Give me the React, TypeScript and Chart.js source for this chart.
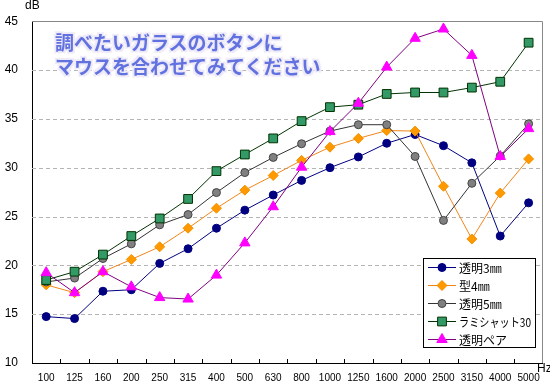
import React, { useEffect, useRef } from "react";
import { Chart, registerables } from "chart.js";

Chart.register(...registerables);

const categories = ["100", "125", "160", "200", "250", "315", "400", "500", "630", "800", "1000", "1250", "1600", "2000", "2500", "3150", "4000", "5000"];
const seriesNames = ["透明3㎜", "型4㎜", "透明5㎜", "ラミシャット30", "透明ペア"];
const clear3 = [14.75, 14.55, 17.35, 17.5, 20.2, 21.7, 23.8, 25.65, 27.2, 28.7, 30.0, 31.1, 32.5, 33.4, 32.25, 30.5, 23.0, 26.4];
const pattern4 = [18.0, 17.2, 19.35, 20.6, 21.9, 23.8, 25.85, 27.7, 29.2, 30.75, 32.1, 33.0, 33.8, 33.75, 28.1, 22.7, 27.4, 30.9];
const clear5 = [18.3, 18.7, 20.7, 22.2, 24.15, 25.2, 27.45, 29.5, 31.05, 32.45, 33.75, 34.4, 34.4, 31.15, 24.6, 28.4, 31.2, 34.5];
const lami30 = [18.5, 19.35, 21.1, 23.0, 24.8, 26.8, 29.65, 31.35, 33.0, 34.77, 36.2, 36.45, 37.55, 37.7, 37.7, 38.2, 38.8, 42.8];
const pair = [19.25, 17.2, 19.35, 17.8, 16.7, 16.55, 19.0, 22.3, 26.0, 30.05, 33.7, 36.6, 40.3, 43.25, 44.2, 41.5, 31.15, 34.0];
const yTickValues = [10, 15, 20, 25, 30, 35, 40, 45];
const overlayLines = ["調べたいガラスのボタンに", "マウスを合わせてみてください"];
const yUnit = "dB";
const xUnit = "Hz";

const styles = [
  { line: "#000080", fill: "#000080", border: "#000080", shape: "circle", r: 4 },
  { line: "#f0861a", fill: "#ff9900", border: "#f39000", shape: "rectRot", r: 5 },
  { line: "#333333", fill: "#808080", border: "#444444", shape: "circle", r: 4 },
  { line: "#003300", fill: "#339966", border: "#003300", shape: "rect", r: 6.2 },
  { line: "#800080", fill: "#ff00ff", border: "#ff00ff", shape: "triangle", r: 6 },
];
const seriesData = [clear3, pattern4, clear5, lami30, pair];

function drawMarker(ctx: CanvasRenderingContext2D, shape: string, r: number, x: number, y: number) {
  ctx.beginPath();
  if (shape === "circle") {
    ctx.arc(x, y, r, 0, Math.PI * 2);
  } else if (shape === "rect") {
    const h = r * Math.SQRT1_2;
    ctx.rect(x - h, y - h, 2 * h, 2 * h);
  } else if (shape === "rectRot") {
    ctx.moveTo(x, y - r);
    ctx.lineTo(x + r, y);
    ctx.lineTo(x, y + r);
    ctx.lineTo(x - r, y);
    ctx.closePath();
  } else if (shape === "triangle") {
    for (let k = 0; k < 3; k++) {
      const ang = (k * 2 * Math.PI) / 3;
      const px = x + Math.sin(ang) * r;
      const py = y - Math.cos(ang) * r;
      if (k === 0) ctx.moveTo(px, py);
      else ctx.lineTo(px, py);
    }
    ctx.closePath();
  }
  ctx.fill();
  ctx.stroke();
}

const decorPlugin = {
  id: "decor",
  beforeDatasetsDraw(chart: any) {
    const ctx = chart.ctx;
    const a = chart.chartArea;
    const y = chart.scales.y;
    ctx.save();
    ctx.strokeStyle = "#b4b4b4";
    ctx.lineWidth = 1;
    ctx.setLineDash([4, 3]);
    for (const v of yTickValues) {
      if (v === 10 || v === 45) continue;
      const py = Math.round(y.getPixelForValue(v)) + 0.5;
      ctx.beginPath();
      ctx.moveTo(a.left, py);
      ctx.lineTo(a.right, py);
      ctx.stroke();
    }
    ctx.setLineDash([]);
    ctx.strokeStyle = "#888888";
    ctx.beginPath();
    ctx.moveTo(a.left, Math.round(a.top) + 0.5);
    ctx.lineTo(Math.round(a.right) - 0.5, Math.round(a.top) + 0.5);
    ctx.lineTo(Math.round(a.right) - 0.5, a.bottom);
    ctx.stroke();
    ctx.strokeStyle = "#000000";
    const n = categories.length;
    const w = (a.right - a.left) / n;
    for (let i = 1; i < n; i++) {
      const px = Math.round(a.left + i * w) + 0.5;
      ctx.beginPath();
      ctx.moveTo(px, a.bottom);
      ctx.lineTo(px, a.bottom - 4);
      ctx.stroke();
    }
    ctx.restore();
  },
  afterDraw(chart: any) {
    const ctx = chart.ctx;
    ctx.save();
    ctx.fillStyle = "#000";
    ctx.font = "12px 'Liberation Sans', Arial, sans-serif";
    ctx.textBaseline = "middle";
    ctx.textAlign = "left";
    ctx.fillText(yUnit, 25, 6);
    ctx.fillText(xUnit, 537, 369);

    const bx = 423.5, by = 258.5, bw = 112, bh = 89;
    ctx.fillStyle = "#ffffff";
    ctx.fillRect(bx, by, bw, bh);
    ctx.strokeStyle = "#000";
    ctx.lineWidth = 1;
    ctx.strokeRect(bx, by, bw, bh);
    ctx.font = "12px 'Noto Sans CJK JP', sans-serif";
    for (let i = 0; i < seriesNames.length; i++) {
      const s = styles[i];
      const cy = 267 + i * 18;
      ctx.strokeStyle = s.line;
      ctx.beginPath();
      ctx.moveTo(428, cy + 0.5);
      ctx.lineTo(456, cy + 0.5);
      ctx.stroke();
      ctx.fillStyle = s.fill;
      ctx.strokeStyle = s.border;
      drawMarker(ctx, s.shape, s.r, 442, cy + 0.5);
      ctx.fillStyle = "#000";
      ctx.fillText(seriesNames[i], 459, cy + 1, 72);
    }
    ctx.restore();
  },
};

export default function App() {
  const ref = useRef<HTMLCanvasElement | null>(null);
  useEffect(() => {
    document.body.style.margin = "0";
    const canvas = ref.current;
    if (!canvas) return;
    const chart = new Chart(canvas, {
      type: "line",
      data: {
        labels: categories,
        datasets: seriesData.map((d, i) => ({
          label: seriesNames[i],
          data: d,
          borderColor: styles[i].line,
          borderWidth: 1,
          backgroundColor: styles[i].fill,
          pointStyle: styles[i].shape as any,
          pointRadius: styles[i].r,
          pointBackgroundColor: styles[i].fill,
          pointBorderColor: styles[i].border,
          pointBorderWidth: 1,
          tension: 0,
          fill: false,
          order: seriesData.length - i,
        })),
      },
      options: {
        animation: false,
        responsive: true,
        maintainAspectRatio: false,
        layout: { padding: { top: 15, right: 3, left: 0, bottom: 0 } },
        plugins: {
          legend: { display: false },
          tooltip: { enabled: false },
        },
        scales: {
          x: {
            type: "category",
            offset: true,
            grid: { display: false, drawTicks: false, offset: true },
            border: { display: true, color: "#000", width: 1 },
            ticks: {
              autoSkip: false,
              maxRotation: 0,
              minRotation: 0,
              padding: 9,
              color: "#000",
              font: { family: "'Liberation Sans', Arial, sans-serif", size: 10 },
            },
            afterFit: (s: any) => {
              s.height = 29;
            },
          },
          y: {
            min: 10,
            max: 45,
            grid: { display: false, drawTicks: false },
            border: { display: true, color: "#000", width: 1 },
            afterBuildTicks: (s: any) => {
              s.ticks = yTickValues.map((v) => ({ value: v }));
            },
            ticks: {
              stepSize: 5,
              padding: 14,
              color: "#000",
              font: { family: "'Liberation Sans', Arial, sans-serif", size: 12 },
            },
            afterFit: (s: any) => {
              s.width = 32;
            },
          },
        },
      },
      plugins: [decorPlugin],
    });
    return () => chart.destroy();
  }, []);

  return (
    <div style={{ position: "absolute", left: 0, top: 0, width: 550, height: 392, background: "#fff" }}>
      <canvas ref={ref} width={550} height={392} />
      <div
        style={{
          position: "absolute",
          left: 55,
          top: 30,
          fontFamily: "'Noto Sans CJK JP', sans-serif",
          fontWeight: 700,
          fontSize: 19,
          lineHeight: "24px",
          color: "#6172e0",
          whiteSpace: "nowrap",
          textShadow:
            "1px 1px 0 #ece8f7, -1px -1px 0 #ece8f7, 1px -1px 0 #ece8f7, -1px 1px 0 #ece8f7, 2px 2px 1px #f0ecf8, -2px -2px 1px #f0ecf8, 2px -2px 1px #f0ecf8, -2px 2px 1px #f0ecf8",
          pointerEvents: "none",
        }}
      >
        {overlayLines.map((t, i) => (
          <div key={i}>{t}</div>
        ))}
      </div>
    </div>
  );
}
